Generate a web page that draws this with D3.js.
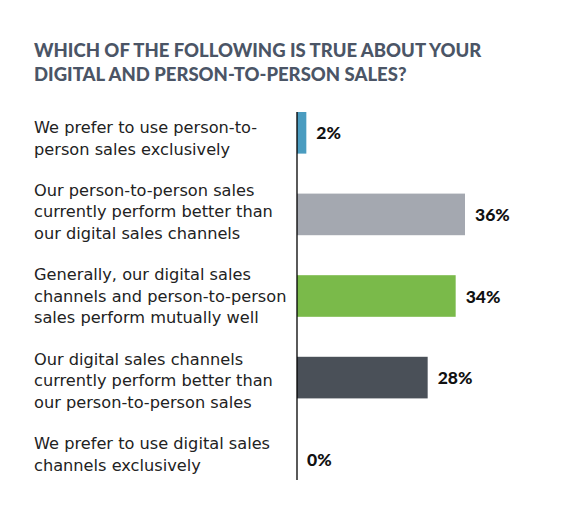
<!DOCTYPE html>
<html>
<head>
<meta charset="utf-8">
<script src="https://cdn.jsdelivr.net/npm/d3@7"></script>
<style>
    body { margin: 0; background: #fff; }
</style>
</head>
<body>
<script>
const titleLines = ["WHICH OF THE FOLLOWING IS TRUE ABOUT YOUR", "DIGITAL AND PERSON-TO-PERSON SALES?"]

const categories = [
    ["We prefer to use person-to-", "person sales exclusively"],
    ["Our person-to-person sales", "currently perform better than", "our digital sales channels"],
    ["Generally, our digital sales", "channels and person-to-person", "sales perform mutually well"],
    ["Our digital sales channels", "currently perform better than", "our person-to-person sales"],
    ["We prefer to use digital sales", "channels exclusively"]
]
const values = [2, 36, 34, 28, 0]
const barColors = ["#4a9cc0", "#a4a8b0", "#7aba4a", "#4a5058", "#4a5058"]

const svgWidth = 564;
const svgHeight = 524;

const axisX = 297;
const chartTop = 112;
const chartBottom = 480;

const svg = d3.select("body").append("svg")
    .attr("width", svgWidth)
    .attr("height", svgHeight)

svg.append("text")
    .attr("x", 34)
    .attr("y", 57)
    .style("font-family", "Lato")
    .style("font-weight", 900)
    .style("font-size", "18.5px")
    .attr("fill", "#4b5566")
    .selectAll("tspan")
    .data(titleLines)
    .join("tspan")
    .attr("x", 34)
    .attr("dy", (d, i) => i === 0 ? 0 : 23.5)
    .text(d => d)

const idx = values.map((d, i) => i)

const scaleY = d3.scaleBand()
    .domain(idx)
    .range([chartTop, chartBottom])
    .paddingInner(0.49)
    .paddingOuter(0)

const scaleX = d3.scaleLinear()
    .domain([0, 36])
    .range([axisX, 465])

svg.selectAll("rect.bar")
    .data(values)
    .join("rect")
    .attr("class", "bar")
    .attr("x", scaleX(0))
    .attr("y", (d, i) => scaleY(i))
    .attr("width", d => scaleX(d) - scaleX(0))
    .attr("height", scaleY.bandwidth())
    .attr("fill", (d, i) => barColors[i])

svg.selectAll("text.value")
    .data(values)
    .join("text")
    .attr("class", "value")
    .attr("x", d => scaleX(d) + 10)
    .attr("y", (d, i) => scaleY(i) + scaleY.bandwidth() / 2)
    .attr("dominant-baseline", "central")
    .style("font-family", "Lato")
    .style("font-weight", 900)
    .style("font-size", "17.5px")
    .attr("fill", "#111")
    .text(d => d + "%")

// category text flows down the left side as paragraphs
const lineH = 21.6;
const paraGap = 41.2;
let baseline = 133;
const firstBaselines = categories.map(lines => {
    const y = baseline
    baseline += (lines.length - 1) * lineH + paraGap
    return y
})

svg.selectAll("text.cat")
    .data(categories)
    .join("text")
    .attr("class", "cat")
    .style("font-family", "DejaVu Sans")
    .style("font-size", "16.2px")
    .attr("fill", "#222")
    .each(function (d, i) {
        d3.select(this).selectAll("tspan")
            .data(d)
            .join("tspan")
            .attr("x", 34)
            .attr("y", (line, j) => firstBaselines[i] + j * lineH)
            .text(line => line)
    })

svg.append("line")
    .attr("x1", axisX)
    .attr("x2", axisX)
    .attr("y1", chartTop)
    .attr("y2", chartBottom)
    .attr("stroke", "#000")
    .attr("stroke-width", 1.3)
</script>
</body>
</html>
